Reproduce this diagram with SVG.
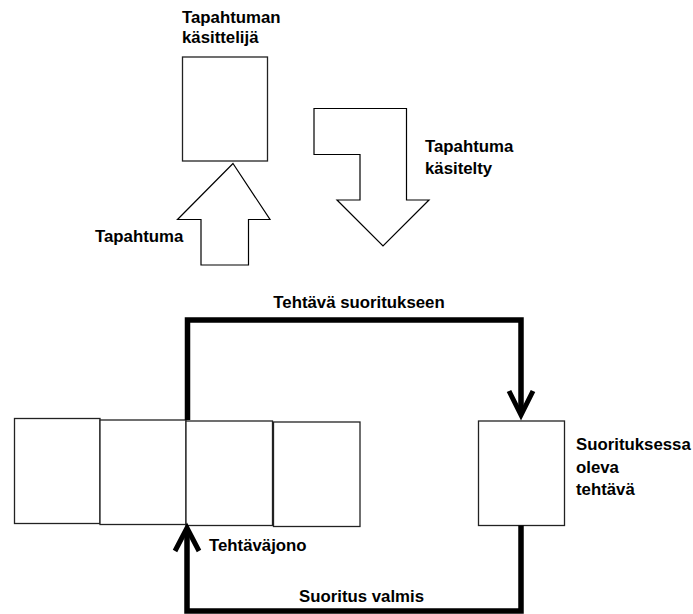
<svg xmlns="http://www.w3.org/2000/svg" width="693" height="614" viewBox="0 0 693 614">
  <style>
    .box { fill: #ffffff; stroke: #222222; stroke-width: 1.3; }
    .shape { fill: #ffffff; stroke: #000000; stroke-width: 1.2; stroke-linejoin: miter; }
    .flow { fill: none; stroke: #000000; stroke-width: 5.5; stroke-linejoin: miter; stroke-linecap: butt; }
    .head { fill: none; stroke: #000000; stroke-width: 5; stroke-linejoin: miter; stroke-miterlimit: 10; }
    .label { font-family: "Liberation Sans", Arial, sans-serif; font-weight: bold; font-size: 16.8px; fill: #000000; }
  </style>
  <rect width="693" height="614" fill="#ffffff"/>

  <!-- Event handler -->
  <g id="handler">
    <rect class="box" x="182.5" y="57" width="85" height="104"/>
    <text class="label" x="182" y="23">Tapahtuman</text>
    <text class="label" x="182" y="43">käsittelijä</text>
  </g>

  <!-- Incoming event arrow -->
  <g id="event">
    <polygon class="shape" points="233,163.5 270,219.5 248.5,219.5 248.5,265 201,265 201,219.5 177.5,219.5"/>
    <text class="label" x="95" y="242">Tapahtuma</text>
  </g>

  <!-- Handled event arrow -->
  <g id="handled">
    <polygon class="shape" points="314,108.5 406.5,108.5 406.5,200 429,200 383,246 337,200 360,200 360,154.5 314,154.5"/>
    <text class="label" x="425" y="152">Tapahtuma</text>
    <text class="label" x="425" y="174">käsitelty</text>
  </g>

  <!-- Task queue -->
  <g id="queue">
    <rect class="box" x="14.5" y="418.5" width="85.5" height="105"/>
    <rect class="box" x="100" y="420" width="86" height="104.5"/>
    <rect class="box" x="186" y="421" width="86.5" height="104.5"/>
    <rect class="box" x="273.5" y="422" width="86.5" height="104.5"/>
    <text class="label" x="209" y="551">Tehtäväjono</text>
  </g>

  <!-- Running task -->
  <g id="running">
    <rect class="box" x="478.5" y="421" width="86" height="104.5"/>
    <text class="label" x="576" y="450">Suorituksessa</text>
    <text class="label" x="576" y="472.5">oleva</text>
    <text class="label" x="576" y="494.5">tehtävä</text>
  </g>

  <!-- Connectors -->
  <g id="connectors">
    <path class="flow" d="M187.5,420 V320 H521 V414"/>
    <polyline class="head" points="509,391 521,415 533,391"/>
    <text class="label" x="359" y="308" text-anchor="middle">Tehtävä suoritukseen</text>

    <path class="flow" d="M521,525.5 V611 H187 V532"/>
    <polyline class="head" points="175,551 187,528 199,551"/>
    <text class="label" x="361.5" y="601.5" text-anchor="middle">Suoritus valmis</text>
  </g>
</svg>
